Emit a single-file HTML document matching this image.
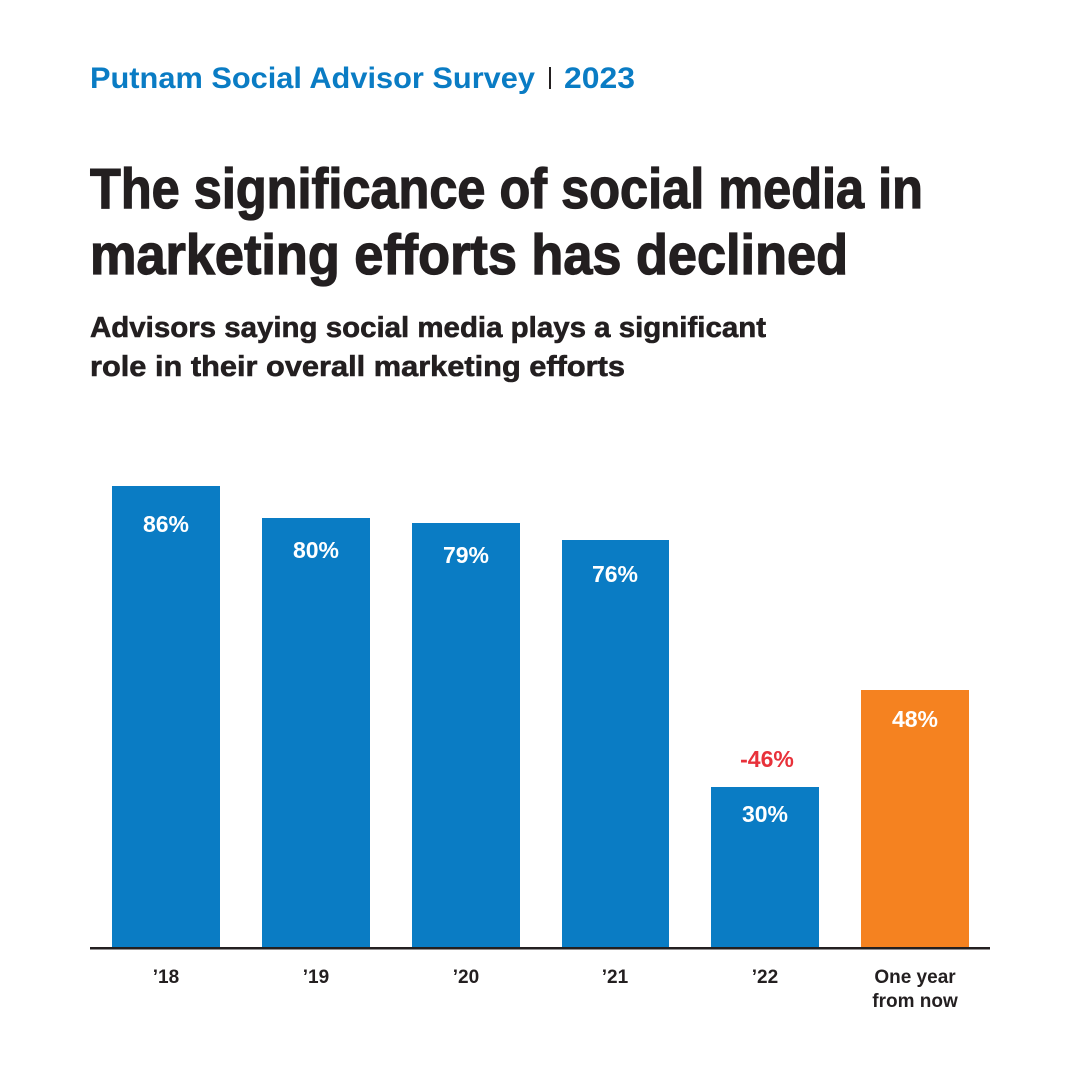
<!DOCTYPE html>
<html><head><meta charset="utf-8"><style>
html,body{margin:0;padding:0;background:#fff}
svg{display:block}
text{font-family:"Liberation Sans",sans-serif;font-weight:bold}
</style></head><body>
<svg width="1080" height="1080" viewBox="0 0 1080 1080">
<rect width="1080" height="1080" fill="#fff"/>
<text x="90" y="88" font-size="30" fill="#0a7cc4" textLength="445" lengthAdjust="spacingAndGlyphs">Putnam Social Advisor Survey</text>
<rect x="549" y="67" width="2" height="22" fill="#231f20"/>
<text x="564" y="88" font-size="30" fill="#0a7cc4" textLength="71" lengthAdjust="spacingAndGlyphs">2023</text>
<g fill="#231f20" stroke="#231f20" stroke-width="1.3">
<text x="90" y="208" font-size="57" textLength="833" lengthAdjust="spacingAndGlyphs">The significance of social media in</text>
<text x="90" y="274" font-size="57" textLength="758" lengthAdjust="spacingAndGlyphs">marketing efforts has declined</text>
</g>
<g fill="#231f20" stroke="#231f20" stroke-width="0.6">
<text x="90" y="337" font-size="29" textLength="676" lengthAdjust="spacingAndGlyphs">Advisors saying social media plays a significant</text>
<text x="90" y="376" font-size="29" textLength="535" lengthAdjust="spacingAndGlyphs">role in their overall marketing efforts</text>
</g>
<g fill="#0a7cc4">
<rect x="112" y="486" width="108" height="462"/>
<rect x="262" y="518" width="108" height="430"/>
<rect x="412" y="523" width="108" height="425"/>
<rect x="562" y="540" width="107" height="408"/>
<rect x="711" y="787" width="108" height="161"/>
</g>
<rect x="861" y="690" width="108" height="258" fill="#f58220"/>
<rect x="90" y="947" width="900" height="2.5" fill="#231f20"/>
<g font-size="23" fill="#fff" text-anchor="middle">
<text x="166" y="532">86%</text>
<text x="316" y="558">80%</text>
<text x="466" y="563">79%</text>
<text x="615" y="582">76%</text>
<text x="765" y="822">30%</text>
<text x="915" y="727">48%</text>
</g>
<text x="767" y="767" font-size="23" fill="#e8313a" text-anchor="middle">-46%</text>
<g font-size="19" fill="#231f20" text-anchor="middle">
<text x="166" y="983">’18</text>
<text x="316" y="983">’19</text>
<text x="466" y="983">’20</text>
<text x="615" y="983">’21</text>
<text x="765" y="983">’22</text>
<text x="915" y="983">One year</text>
<text x="915" y="1007">from now</text>
</g>
</svg>
</body></html>
